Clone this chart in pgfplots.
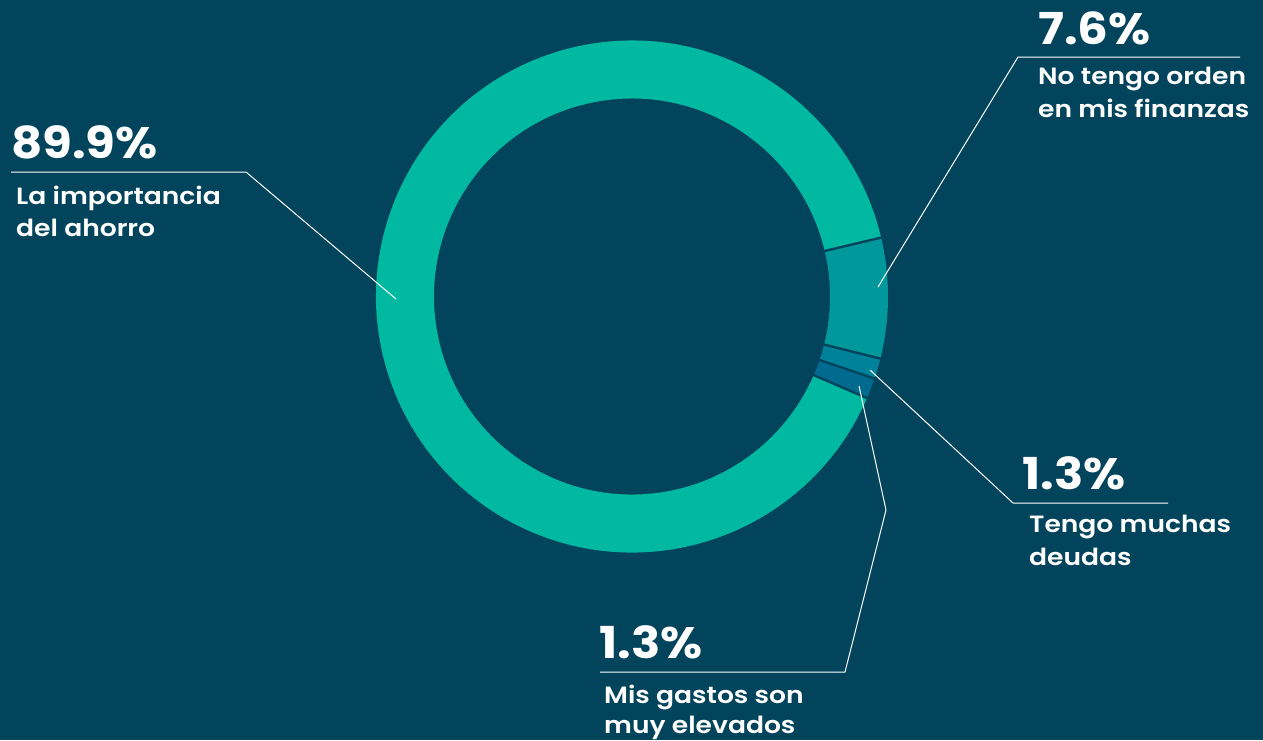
\documentclass[border=0pt]{standalone}
\usepackage{fontspec}
\setmainfont{Poppins}[UprightFont={* SemiBold}, BoldFont={* Bold}]
\newfontfamily\pctfont{Poppins}[UprightFont={* Bold}, FakeStretch=1.1]
\newfontfamily\lblfont{Poppins}[UprightFont={* SemiBold}, FakeStretch=1.13]
\usepackage{pgfplots}
\usepackage{pgfplotstable}
\pgfplotsset{compat=1.18}
\usetikzlibrary{calc}

\definecolor{bg}{HTML}{02445C}
\definecolor{cAhorro}{HTML}{00B9A0}
\definecolor{cOrden}{HTML}{00989B}
\definecolor{cDeudas}{HTML}{00819A}
\definecolor{cGastos}{HTML}{016A8F}

% shares of the donut, clockwise from the top boundary of "orden"
\pgfplotstableread{
label value
Orden 7.6
Deudas 1.3
Gastos 1.3
Ahorro 89.9
}\datatable

\newcommand{\pct}{\pctfont\fontsize{44}{44}\selectfont}
\newcommand{\lbl}{\lblfont\fontsize{23.5}{32}\selectfont}

\begin{document}
\begin{tikzpicture}
\pgfplotstablegetelem{0}{value}\of\datatable \let\vA\pgfplotsretval
\pgfplotstablegetelem{1}{value}\of\datatable \let\vB\pgfplotsretval
\pgfplotstablegetelem{2}{value}\of\datatable \let\vC\pgfplotsretval
\pgfplotstablegetelem{3}{value}\of\datatable \let\vD\pgfplotsretval
\pgfmathsetmacro\total{\vA+\vB+\vC+\vD}
\pgfmathsetmacro\aA{13.3}
\pgfmathsetmacro\aB{\aA-\vA/\total*360}
\pgfmathsetmacro\aC{\aB-\vB/\total*360}
\pgfmathsetmacro\aD{\aC-\vC/\total*360}
\pgfmathsetmacro\aE{\aD-\vD/\total*360}
\def\Ro{256pt}
\def\Ri{198pt}
\newcommand{\sector}[3]{%
  \fill[#3] ($(axis cs:632,296.5)+(#1:\Ro)$) arc[start angle=#1, end angle=#2, radius=\Ro]
    -- ($(axis cs:632,296.5)+(#2:\Ri)$) arc[start angle=#2, end angle=#1, radius=\Ri] -- cycle;}
\newcommand{\gap}[1]{%
  \draw[bg, line width=2.4pt] ($(axis cs:632,296.5)+(#1:190pt)$) -- ($(axis cs:632,296.5)+(#1:262pt)$);}
\begin{axis}[
  name=ax, at={(0,0)}, anchor=south west,
  scale only axis, width=1263pt, height=740pt,
  xmin=0, xmax=1263, ymin=0, ymax=740, y dir=reverse,
  hide axis, clip=false]
  \fill[bg] (axis cs:0,0) rectangle (axis cs:1263,740);
  \sector{\aA}{\aB}{cOrden}
  \sector{\aB}{\aC}{cDeudas}
  \sector{\aC}{\aD}{cGastos}
  \sector{\aD}{\aE}{cAhorro}
  \gap{\aA}\gap{\aB}\gap{\aC}\gap{\aD}
  % leader lines
  \draw[white, line width=1pt] (axis cs:396,299) -- (axis cs:246,172) -- (axis cs:11,172);
  \draw[white, line width=1pt] (axis cs:878,287) -- (axis cs:1018,57) -- (axis cs:1240,57);
  \draw[white, line width=1pt] (axis cs:870,370) -- (axis cs:1013,503) -- (axis cs:1168,503);
  \draw[white, line width=1pt] (axis cs:859,386) -- (axis cs:886,510) -- (axis cs:845,672) -- (axis cs:600,672);
  % labels
  \begin{scope}[every node/.style={white, inner sep=0pt, anchor=base west}]
  \node[font=\pct] at (axis cs:11,158) {89.9\%};
  \node[font=\lbl] at (axis cs:16,204) {La importancia};
  \node[font=\lbl] at (axis cs:16,236) {del ahorro};
  \node[font=\pct] at (axis cs:1038,44) {7.6\%};
  \node[font=\lbl] at (axis cs:1038,84) {No tengo orden};
  \node[font=\lbl] at (axis cs:1038,117) {en mis finanzas};
  \node[font=\pct] at (axis cs:1022,489) {1.3\%};
  \node[font=\lbl] at (axis cs:1029,532) {Tengo muchas};
  \node[font=\lbl] at (axis cs:1029,565) {deudas};
  \node[font=\pct] at (axis cs:599,658) {1.3\%};
  \node[font=\lbl] at (axis cs:604,703) {Mis gastos son};
  \node[font=\lbl] at (axis cs:604,733) {muy elevados};
  \end{scope}
\end{axis}
\pgfresetboundingbox
\path[use as bounding box] (ax.south west) rectangle (ax.north east);
\end{tikzpicture}
\end{document}
